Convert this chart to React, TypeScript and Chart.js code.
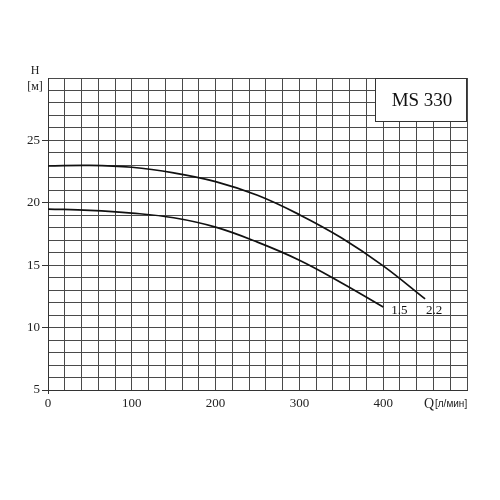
import React, { useEffect, useRef } from "react";
import { Chart, registerables } from "chart.js";

Chart.register(...registerables);

const flowQ = [0, 50, 100, 150, 200, 250, 300, 350, 400, 450];
const head22 = [22.95, 23.0, 22.85, 22.4, 21.7, 20.6, 19.05, 17.2, 14.95, 12.3];
const flowQ15 = [0, 50, 100, 150, 200, 250, 300, 350, 400];
const head15 = [19.5, 19.4, 19.18, 18.8, 18.05, 16.85, 15.4, 13.6, 11.65];
const curveLabels = ["2.2", "1.5"];
const yTickLabels = [5, 10, 15, 20, 25];
const xTickLabels = [0, 100, 200, 300, 400];
const modelTitle = "MS 330";

const SERIF = "'Liberation Serif', 'DejaVu Serif', serif";

const overlayPlugin = {
  id: "overlay",
  afterDatasetsDraw(chart: any) {
    const { ctx, chartArea, scales } = chart;
    const xs = scales.x;
    const ys = scales.y;
    ctx.save();
    // model box
    const bw = 92;
    const bh = 44;
    const bx = chartArea.right - bw;
    const by = chartArea.top;
    ctx.fillStyle = "#fff";
    ctx.fillRect(bx, by, bw, bh);
    ctx.strokeStyle = "#333";
    ctx.lineWidth = 1;
    ctx.strokeRect(bx + 0.5, by + 0.5, bw - 1, bh - 1);
    ctx.fillStyle = "#111";
    ctx.font = `19px ${SERIF}`;
    ctx.textAlign = "center";
    ctx.textBaseline = "middle";
    ctx.fillText(modelTitle, bx + bw / 2 + 1, by + bh / 2 + 1);

    // curve end labels
    ctx.font = `13px ${SERIF}`;
    ctx.textAlign = "left";
    ctx.textBaseline = "middle";
    const end22x = xs.getPixelForValue(flowQ[flowQ.length - 1]);
    const end15x = xs.getPixelForValue(flowQ15[flowQ15.length - 1]);
    const labelY = ys.getPixelForValue(head15[head15.length - 1]) + 4;
    ctx.fillText(curveLabels[1], end15x + 8, labelY);
    ctx.fillText(curveLabels[0], end22x + 1, labelY);

    // axis titles
    ctx.textAlign = "center";
    ctx.font = `12px ${SERIF}`;
    ctx.fillStyle = "#222";
    ctx.fillText("H", chartArea.left - 13, chartArea.top - 7);
    ctx.fillText("[м]", chartArea.left - 13, chartArea.top + 9);

    const qy = chartArea.bottom + 14;
    ctx.textAlign = "left";
    ctx.font = `14px ${SERIF}`;
    ctx.fillText("Q", chartArea.right - 43, qy);
    ctx.font = `10px 'Liberation Sans', 'DejaVu Sans', sans-serif`;
    ctx.fillText("[л/мин]", chartArea.right - 32, qy);
    ctx.restore();
  },
};

export default function App() {
  const ref = useRef<HTMLCanvasElement>(null);
  useEffect(() => {
    if (!ref.current) return;
    const chart = new Chart(ref.current, {
      type: "line",
      data: {
        datasets: [
          {
            label: curveLabels[0],
            data: flowQ.map((q, i) => ({ x: q, y: head22[i] })),
            borderColor: "#111",
            borderWidth: 1.7,
            pointRadius: 0,
            tension: 0.4,
          },
          {
            label: curveLabels[1],
            data: flowQ15.map((q, i) => ({ x: q, y: head15[i] })),
            borderColor: "#111",
            borderWidth: 1.7,
            pointRadius: 0,
            tension: 0.4,
          },
        ],
      },
      options: {
        animation: false,
        responsive: false,
        devicePixelRatio: 1,
        layout: { padding: { top: 78, right: 33, left: 0, bottom: 0 } },
        plugins: { legend: { display: false }, tooltip: { enabled: false } },
        scales: {
          x: {
            type: "linear",
            min: 0,
            max: 500,
            afterFit: (s: any) => {
              s.height = 110;
            },
            border: { display: true, color: "#333", width: 1 },
            grid: {
              color: "#4a4a4a",
              lineWidth: 1,
              tickLength: 4,
              tickColor: (c: any) => (c.tick && c.tick.value === 0 ? "#333" : "rgba(0,0,0,0)"),
            },
            ticks: {
              stepSize: 20,
              autoSkip: false,
              maxRotation: 0,
              padding: 2,
              color: "#222",
              font: { family: SERIF, size: 13 },
              callback: (v: any) => (xTickLabels.includes(Number(v)) ? String(v) : ""),
            },
          },
          y: {
            type: "linear",
            min: 5,
            max: 30,
            afterFit: (s: any) => {
              s.width = 48;
            },
            border: { display: true, color: "#333", width: 1 },
            grid: {
              color: "#4a4a4a",
              lineWidth: 1,
              tickLength: 6,
              tickColor: (c: any) =>
                c.tick && yTickLabels.includes(c.tick.value) ? "#333" : "rgba(0,0,0,0)",
            },
            ticks: {
              stepSize: 1,
              autoSkip: false,
              padding: 2,
              color: "#222",
              font: { family: SERIF, size: 13 },
              callback: (v: any) => (yTickLabels.includes(Number(v)) ? String(v) : ""),
            },
          },
        },
      },
      plugins: [overlayPlugin],
    } as any);
    return () => chart.destroy();
  }, []);
  return (
    <div style={{ position: "absolute", left: 0, top: 0, width: 500, height: 500, background: "#fff" }}>
      <canvas ref={ref} width={500} height={500} style={{ width: 500, height: 500 }} />
    </div>
  );
}
